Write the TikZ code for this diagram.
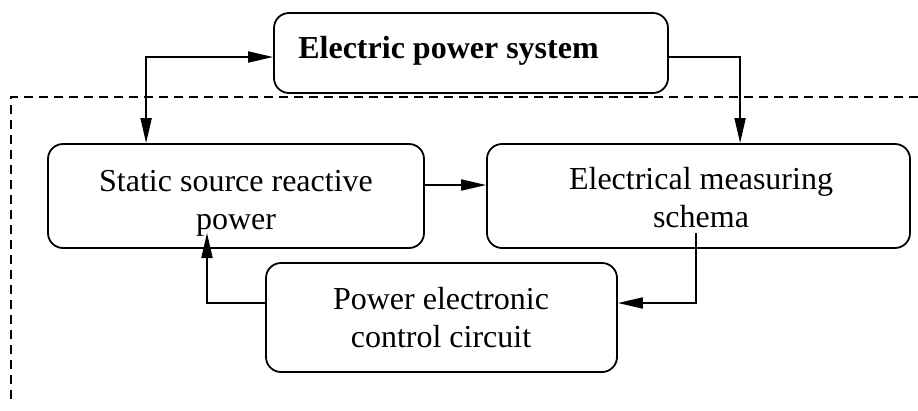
\documentclass[tikz,border=0pt]{standalone}
\usepackage{fontspec}
\setmainfont{Liberation Serif}
\usetikzlibrary{arrows.meta}
\begin{document}
\begin{tikzpicture}[x=1pt,y=-1pt,
  box/.style={draw,line width=1.8pt,rounded corners=15pt,inner sep=0pt},
  txt/.style={font=\fontsize{32}{38}\selectfont,align=center,anchor=base,inner sep=0pt},
  conn/.style={line width=1.8pt,-{Triangle[length=25pt,width=11pt]}},
  conn2/.style={line width=1.8pt,{Triangle[length=25pt,width=11pt]}-{Triangle[length=25pt,width=11pt]}},
  frame/.style={line width=1.6pt,dash pattern=on 9pt off 6pt}]
\useasboundingbox (0,0) rectangle (918,410);
% boxes
\node[box,minimum width=394pt,minimum height=80pt] (top) at (471,53) {};
\node[box,minimum width=376pt,minimum height=104pt] (static) at (236,196) {};
\node[box,minimum width=423pt,minimum height=104pt] (meas) at (698.5,196) {};
\node[box,minimum width=351pt,minimum height=109pt] (power) at (441.5,317.5) {};
% texts
\node[txt,font=\fontsize{32}{38}\selectfont\bfseries] (ttop) at (448.5,58) {Electric power system};
\node[txt] (tstatic) at (236,229) {Static source reactive\\power};
\node[txt] (tmeas) at (701,227) {Electrical measuring\\schema};
\node[txt] (tpower) at (441,347) {Power electronic\\control circuit};
% dashed frame
\draw[frame] (918,97) -- (11,97) -- (11,404);
% connectors
\coordinate (mout) at (696,233);
\coordinate (sin) at (207,233);
\draw[conn2] ([yshift=-4pt]top.west) -| ([xshift=99pt]static.north west);
\draw[conn] ([yshift=-4pt]top.east) -| ([xshift=254pt]meas.north west);
\draw[conn] ([yshift=11pt]static.east) -- ([yshift=11pt]meas.west);
\draw[conn] (mout) |- ([yshift=14.5pt]power.east);
\draw[conn] ([yshift=14.5pt]power.west) -| (sin);
\end{tikzpicture}
\end{document}
